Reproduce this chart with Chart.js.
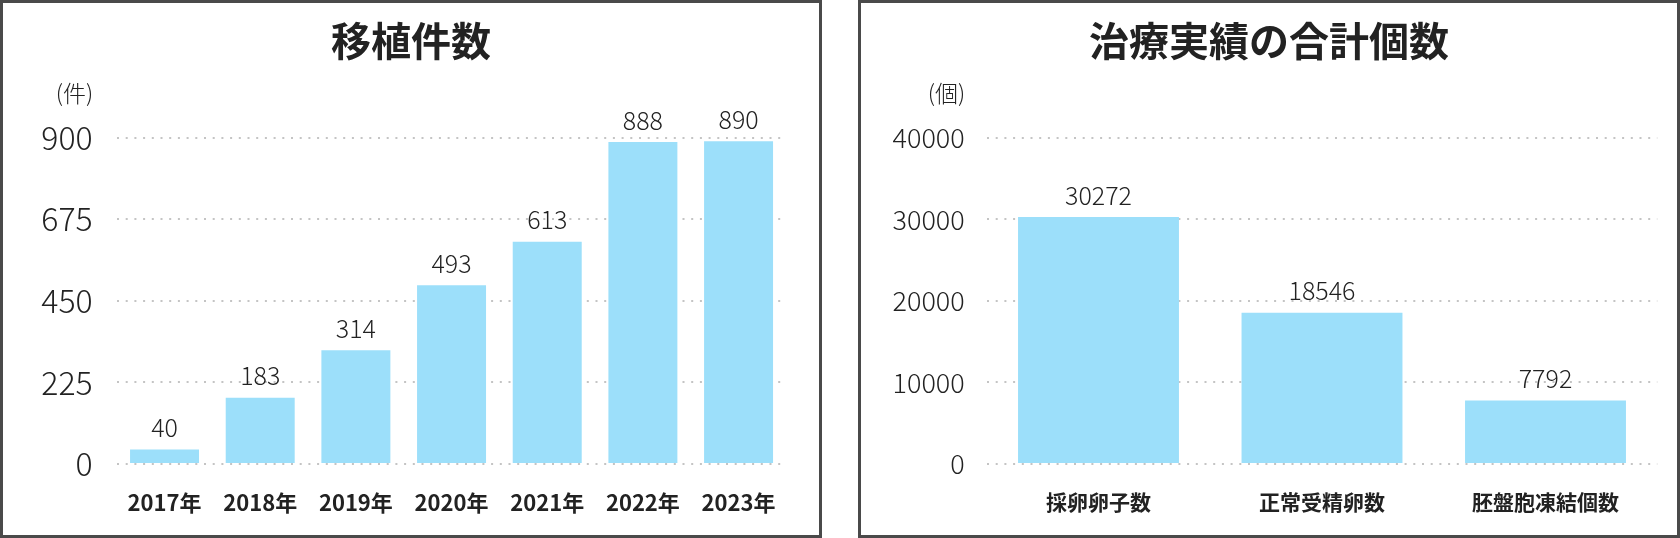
<!DOCTYPE html>
<html>
<head>
<meta charset="utf-8">
<script src="https://cdn.jsdelivr.net/npm/chart.js@4.4.1/dist/chart.umd.min.js"></script>
<style>
html,body{margin:0;padding:0;background:#fff;width:1680px;height:538px;overflow:hidden;}
.panel{position:absolute;top:0;height:538px;width:822px;box-sizing:border-box;border:3px solid #4a4a4a;background:#fff;}
.panel canvas{position:absolute;left:0;top:0;}
.unit{position:absolute;width:100px;height:30px;line-height:30px;text-align:center;font-family:"Noto Sans CJK JP","Noto Sans",sans-serif;font-size:23px;color:#222;font-weight:300;}
</style>
</head>
<body>
<div class="panel" style="left:0;">
  <canvas id="c1" width="816" height="532"></canvas>
  <div class="unit" style="left:21.5px;top:74px;">(件)</div>
</div>
<div class="panel" style="left:858px;">
  <canvas id="c2" width="816" height="532"></canvas>
  <div class="unit" style="left:35.5px;top:74px;">(個)</div>
</div>
<script>
// ---- data ----
const yearLabels = ['2017年','2018年','2019年','2020年','2021年','2022年','2023年'];
const transplantCounts = [40, 183, 314, 493, 613, 888, 890];
const transplantTicks = [0, 225, 450, 675, 900];

const treatmentLabels = ['採卵卵子数','正常受精卵数','胚盤胞凍結個数'];
const treatmentTotals = [30272, 18546, 7792];
const treatmentTicks = [0, 10000, 20000, 30000, 40000];

// ---- styles ----
const FONT = '"Noto Sans CJK JP","Noto Sans",sans-serif';
const BAR = '#9cdffa';
const TEXT = '#222222';
const GRID = '#c4c4c4';

const valueLabels = {
  id: 'valueLabels',
  afterDatasetsDraw(chart, args, opts) {
    const ctx = chart.ctx;
    const ds = chart.data.datasets[0];
    const meta = chart.getDatasetMeta(0);
    ctx.save();
    ctx.font = opts.font;
    ctx.fillStyle = opts.color;
    ctx.textAlign = 'center';
    ctx.textBaseline = 'middle';
    meta.data.forEach((bar, i) => {
      ctx.fillText(String(ds.data[i]), bar.x, bar.y - opts.offset);
    });
    ctx.restore();
  }
};

function makeChart(id, title, labels, values, ticks, cfg) {
  return new Chart(document.getElementById(id), {
    type: 'bar',
    data: {
      labels: labels,
      datasets: [{
        data: values,
        backgroundColor: BAR,
        borderWidth: 0,
        barPercentage: cfg.barPct,
        categoryPercentage: 1.0
      }]
    },
    options: {
      responsive: false,
      animation: false,
      layout: { padding: 0 },
      plugins: {
        legend: { display: false },
        tooltip: { enabled: false },
        title: {
          display: true,
          text: title,
          color: TEXT,
          font: { family: FONT, size: 40, weight: 'bold', lineHeight: 1.2 },
          padding: { top: 14, bottom: 72.7 }
        },
        valueLabels: { font: '300 25px ' + FONT, color: TEXT, offset: 22 }
      },
      scales: {
        x: {
          grid: { display: false },
          border: { display: false },
          ticks: { color: TEXT, font: { family: FONT, size: cfg.xSize, weight: 'bold' }, padding: 17, maxRotation: 0 },
          afterFit(s) { s.height = 71; }
        },
        y: {
          min: ticks[0],
          max: ticks[ticks.length - 1],
          afterBuildTicks(s) { s.ticks = ticks.map(v => ({ value: v })); },
          ticks: { color: TEXT, font: { family: FONT, size: cfg.ySize, weight: 300 }, padding: cfg.yPad,
                   callback: v => String(v) },
          grid: { drawTicks: false, color: GRID, lineWidth: 2 },
          border: { display: false, dash: [2, 6.7] },
          afterFit(s) { s.width = cfg.yWidth; }
        },
        spacer: {
          type: 'linear',
          position: 'right',
          display: true,
          grid: { display: false, drawTicks: false },
          border: { display: false },
          ticks: { display: false },
          afterFit(s) { s.width = cfg.right; }
        }
      }
    },
    plugins: [valueLabels]
  });
}

makeChart('c1', '移植件数', yearLabels, transplantCounts, transplantTicks,
  { right: 32.6, yWidth: 113.7, yPad: 24, ySize: 32, xSize: 22, barPct: 0.721 });
makeChart('c2', '治療実績の合計個数', treatmentLabels, treatmentTotals, treatmentTicks,
  { right: 19.75, yWidth: 125.75, yPad: 22, ySize: 27, xSize: 21, barPct: 0.72 });
</script>
</body>
</html>
